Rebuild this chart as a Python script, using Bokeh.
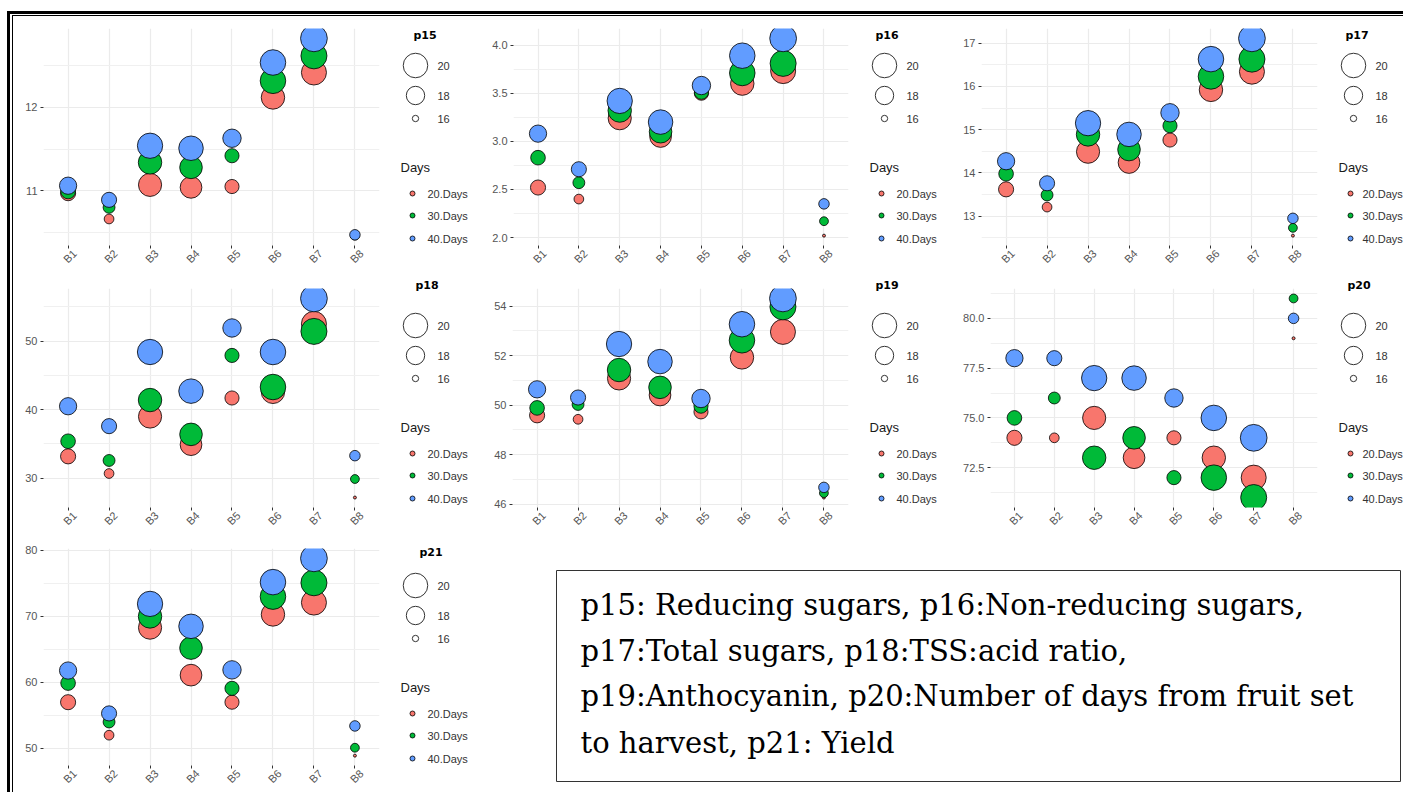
import numpy as np
from bokeh.plotting import figure
from bokeh.layouts import row, column
from bokeh.models import (Range1d, FixedTicker, ColumnDataSource, NumeralTickFormatter, LinearAxis)
from bokeh.core.properties import value
from bokeh.embed import file_html
from bokeh.resources import INLINE

# ---------------- data ----------------
batches = ["B1", "B2", "B3", "B4", "B5", "B6", "B7", "B8"]
days = ["20.Days", "30.Days", "40.Days"]
day_colors = ["#F8766D", "#00BA38", "#619CFF"]

# size variable (shared by all panels)
size_20 = [17.2, 16.3, 19.5, 19.0, 17.0, 19.6, 20.2, 15.9]
size_30 = [17.1, 16.6, 19.6, 19.3, 17.0, 20.4, 20.6, 16.2]
size_40 = [17.7, 17.2, 20.3, 20.0, 18.0, 20.4, 20.9, 16.4]
size_breaks = [20, 18, 16]

p15_20 = [10.97, 10.66, 11.07, 11.04, 11.05, 12.12, 12.42, 10.46]
p15_30 = [10.99, 10.80, 11.34, 11.28, 11.42, 12.32, 12.62, 10.46]
p15_40 = [11.06, 10.89, 11.54, 11.51, 11.63, 12.54, 12.83, 10.47]
p15_ticks = [11, 12]
p15_minor = [10.5, 11.5, 12.5]

p16_20 = [2.52, 2.40, 3.24, 3.05, 3.50, 3.60, 3.73, 2.02]
p16_30 = [2.83, 2.57, 3.32, 3.10, 3.51, 3.71, 3.81, 2.17]
p16_40 = [3.08, 2.71, 3.42, 3.20, 3.58, 3.89, 4.07, 2.35]
p16_ticks = [2.0, 2.5, 3.0, 3.5, 4.0]
p16_minor = [2.25, 2.75, 3.25, 3.75]

p17_20 = [13.62, 13.21, 14.49, 14.24, 14.76, 15.92, 16.34, 12.55]
p17_30 = [13.98, 13.49, 14.89, 14.54, 15.09, 16.23, 16.63, 12.73]
p17_40 = [14.27, 13.76, 15.15, 14.89, 15.39, 16.63, 17.11, 12.95]
p17_ticks = [13, 14, 15, 16, 17]
p17_minor = [12.5, 13.5, 14.5, 15.5, 16.5]

p18_20 = [33.2, 30.7, 39.0, 34.9, 41.7, 42.6, 52.5, 27.2]
p18_30 = [35.4, 32.6, 41.4, 36.4, 47.9, 43.3, 51.4, 29.9]
p18_40 = [40.5, 37.6, 48.4, 42.7, 51.9, 48.4, 56.2, 33.3]
p18_ticks = [30, 40, 50]
p18_minor = [35, 45, 55]

p19_20 = [49.59, 49.43, 51.08, 50.41, 49.73, 51.93, 52.96, 46.27]
p19_30 = [49.89, 50.03, 51.42, 50.72, 49.96, 52.62, 53.97, 46.45]
p19_40 = [50.64, 50.31, 52.47, 51.76, 50.27, 53.27, 54.31, 46.68]
p19_ticks = [46, 48, 50, 52, 54]
p19_minor = [47, 49, 51, 53]

p20_20 = [74, 74, 75, 73, 74, 73, 72, 79]
p20_30 = [75, 76, 73, 74, 72, 72, 71, 81]
p20_40 = [78, 78, 77, 77, 76, 75, 74, 80]
p20_ticks = [72.5, 75.0, 77.5, 80.0]
p20_minor = [71.25, 73.75, 76.25, 78.75, 81.25]

p21_20 = [57.0, 52.0, 68.3, 61.1, 57.0, 70.3, 72.1, 48.9]
p21_30 = [59.9, 54.0, 70.0, 65.2, 59.1, 73.0, 75.1, 50.1]
p21_40 = [61.8, 55.3, 71.9, 68.5, 61.9, 75.2, 78.8, 53.4]
p21_ticks = [50, 60, 70, 80]
p21_minor = [55, 65, 75]

note_lines = [
    "p15: Reducing sugars, p16:Non-reducing sugars,",
    "p17:Total sugars, p18:TSS:acid ratio,",
    "p19:Anthocyanin, p20:Number of days from fruit set",
    "to harvest, p21: Yield",
]

SANS = "Liberation Sans"

# discrete positions of the batches (1..n, as a discrete scale places them)
xpos = list(range(1, len(batches) + 1))


def diam(v):
    v = np.asarray(v, dtype=float)
    return 3 + 24 * np.sqrt(np.clip((v - 15.9) / 5.1, 0, None))


def make_main(vals, ticks, minor, fmt, width, left, height, bottom):
    allv = vals[0] + vals[1] + vals[2]
    lo, hi = min(allv), max(allv)
    pad = 0.05 * (hi - lo)
    n = len(batches)
    p = figure(width=width, height=height,
               x_range=Range1d(1 - 0.6, n + 0.6),
               y_range=Range1d(lo - pad, hi + pad),
               min_border_left=left, min_border_right=6, min_border_top=12, min_border_bottom=bottom,
               output_backend="svg", toolbar_location=None, outline_line_color=None)
    p.frame_align = False
    for v, s, c in zip(vals, [size_20, size_30, size_40], day_colors):
        src = ColumnDataSource(dict(x=xpos, batch=batches, y=v, s=diam(s)))
        p.scatter("x", "y", size="s", source=src, fill_color=c, line_color="black", line_width=0.8)
    tk = FixedTicker(ticks=ticks, minor_ticks=minor)
    p.yaxis.ticker = tk
    p.ygrid.ticker = tk
    p.yaxis.formatter = NumeralTickFormatter(format=fmt)

    xtk = FixedTicker(ticks=xpos, minor_ticks=[])
    xa = p.xaxis[0]
    xa.ticker = xtk
    p.xgrid.ticker = xtk
    xa.major_label_overrides = {x: "" for x in xpos}
    xa.major_label_text_font_size = "0px"
    xa.major_label_standoff = 0

    # label axis: same batches, offset like ggplot's centred 45-degree text
    shift = 0.16
    p.extra_x_ranges = {"lab": Range1d(1 - 0.6 - shift, n + 0.6 - shift)}
    lab = LinearAxis(x_range_name="lab", ticker=FixedTicker(ticks=xpos, minor_ticks=[]),
                     major_label_overrides={x: b for x, b in zip(xpos, batches)})
    p.add_layout(lab, "below")

    for ax in (xa, p.yaxis[0], lab):
        ax.axis_line_color = None
        ax.major_tick_line_color = "#333333"
        ax.major_tick_out = 3
        ax.major_tick_in = 0
        ax.minor_tick_line_color = None
        ax.major_label_text_color = "#555555"
        ax.major_label_text_font = SANS
    lab.major_tick_line_color = None
    lab.major_tick_out = 0
    lab.major_label_orientation = np.pi / 4
    lab.major_label_standoff = 3
    lab.major_label_text_font_size = "11px"
    p.yaxis.major_label_standoff = 2
    p.yaxis.major_label_text_font_size = "11px"
    p.xgrid.grid_line_color = "#EBEBEB"
    p.xgrid.grid_line_width = 1.2
    p.ygrid.grid_line_color = "#EBEBEB"
    p.ygrid.grid_line_width = 1.2
    p.ygrid.minor_grid_line_color = "#F0F0F0"
    p.ygrid.minor_grid_line_width = 1.0
    return p


def make_legend(name, width, height, title_dx, title_y, lab_dx):
    p = figure(width=width, height=height, x_range=Range1d(0, width), y_range=Range1d(height, 0),
               min_border=0, x_axis_type=None, y_axis_type=None, output_backend="svg",
               toolbar_location=None, outline_line_color=None)
    p.frame_align = False
    p.grid.visible = False
    p.text(x=[title_dx], y=[title_y], text=[name], text_font=value("DejaVu Sans"),
           text_font_style="bold", text_font_size="11px", text_color="black", text_baseline="middle")
    sy = [49, 79, 102]
    p.scatter(x=[30] * 3, y=sy, size=diam(size_breaks), fill_color="white", line_color="#333333", line_width=1)
    p.text(x=[52] * 3, y=sy, text=[str(b) for b in size_breaks], text_font=value(SANS),
           text_font_size="11px", text_color="#333333", text_baseline="middle")
    p.text(x=[15], y=[151], text=["Days"], text_font=value(SANS), text_font_size="13px",
           text_color="#1a1a1a", text_baseline="middle")
    dy = [177, 199, 222]
    p.scatter(x=[27] * 3, y=dy, size=5, fill_color=day_colors, line_color="black", line_width=0.8)
    p.text(x=[lab_dx] * 3, y=dy, text=days, text_font=value(SANS), text_font_size="11px",
           text_color="#333333", text_baseline="middle")
    return p


row_h = [260, 260, 256]
row_b = [31, 29, 26]
title_y = [19, 9, 16]

cells = [
    # name, vals, ticks, minor, fmt, main width, left border, legend width, title dx, label dx, row
    ("p15", (p15_20, p15_30, p15_40), p15_ticks, p15_minor, "0", 372, 30, 100, 28, 42, 0),
    ("p16", (p16_20, p16_30, p16_40), p16_ticks, p16_minor, "0.0", 369, 28, 96, 21, 42, 0),
    ("p17", (p17_20, p17_30, p17_40), p17_ticks, p17_minor, "0", 373, 31, 80, 22, 39, 0),
    ("p18", (p18_20, p18_30, p18_40), p18_ticks, p18_minor, "0", 372, 30, 100, 30, 42, 1),
    ("p19", (p19_20, p19_30, p19_40), p19_ticks, p19_minor, "0", 369, 27, 96, 21, 42, 1),
    ("p20", (p20_20, p20_30, p20_40), p20_ticks, p20_minor, "0.0", 373, 40, 80, 24, 39, 1),
    ("p21", (p21_20, p21_30, p21_40), p21_ticks, p21_minor, "0", 372, 30, 100, 34, 42, 2),
]

rows = [[], [], []]
for name, vals, ticks, minor, fmt, w, left, lw, tdx, ldx, r in cells:
    m = make_main(vals, ticks, minor, fmt, w, left, row_h[r], row_b[r])
    lg = make_legend(name, lw, row_h[r], tdx, title_y[r], ldx)
    rows[r].extend([m, lg])

# note box
tw, th = 918, row_h[2]
bx, by, bw, bh = 71, 34, 844, 211
note = figure(width=tw, height=th, x_range=Range1d(0, bw), y_range=Range1d(bh, 0),
              min_border_left=bx, min_border_right=tw - bx - bw, min_border_top=by,
              min_border_bottom=th - by - bh, x_axis_type=None, y_axis_type=None,
              output_backend="svg", toolbar_location=None,
              outline_line_color="#333333", outline_line_width=1)
note.frame_align = False
note.grid.visible = False
note.text(x=[24] * 4, y=[34, 80, 125, 172], text=note_lines, text_font=value("DejaVu Serif"),
          text_font_size="29px", text_color="black", text_baseline="middle")
rows[2].append(note)

inner = column(row(*rows[0]), row(*rows[1]), row(*rows[2]),
               styles={"border-top": "1px solid black", "border-left": "1px solid black"})
root = column(inner, styles={"margin-left": "7px", "margin-top": "11px",
                             "border-top": "3px solid black", "border-left": "3px solid black",
                             "padding-left": "2px", "padding-top": "1px"})

open("out.html", "w").write(file_html(root, INLINE))
